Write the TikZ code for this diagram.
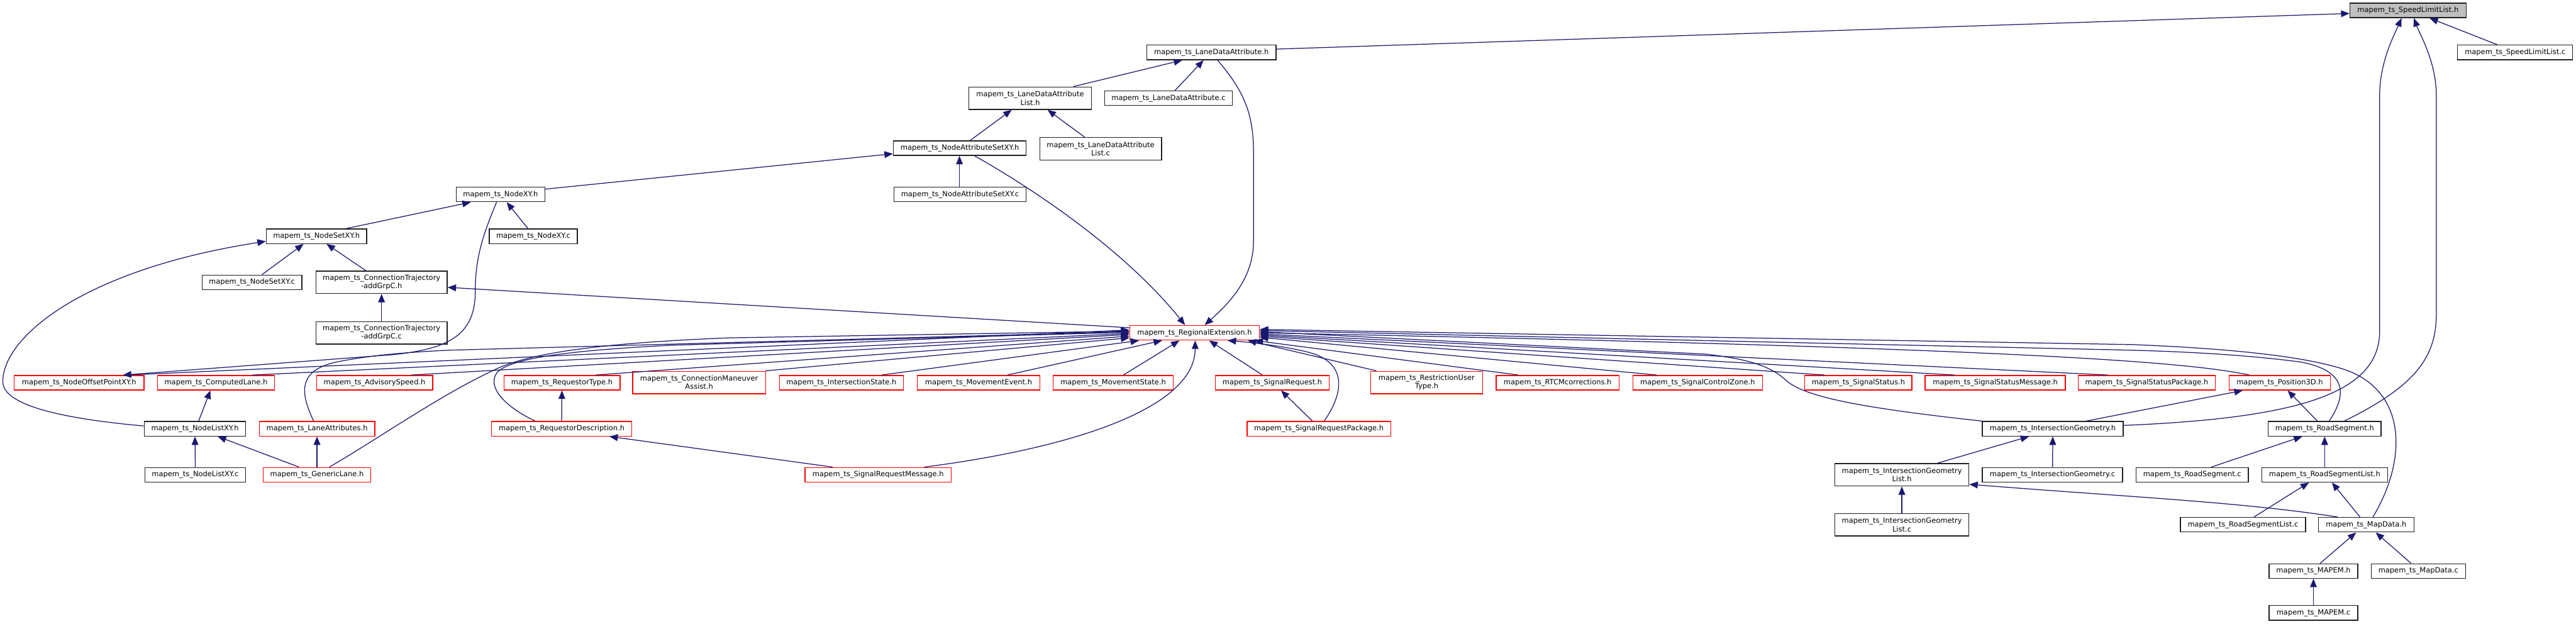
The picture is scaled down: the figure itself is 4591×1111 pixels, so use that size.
\documentclass[tikz,border=0pt]{standalone}
\usepackage{fontspec}
\setmainfont{DejaVu Sans}
\usetikzlibrary{arrows.meta}
\definecolor{edgecol}{HTML}{191970}
\definecolor{graybg}{HTML}{BFBFBF}
\definecolor{boxline}{HTML}{202020}
\newcommand\boxfont{\fontsize{12.85pt}{15pt}\selectfont}
\tikzset{
  box/.style={draw=boxline, line width=1.5pt, fill=white, inner sep=0pt, minimum height=26pt, align=center, font=\boxfont},
  redbox/.style={box, draw=red},
  topbox/.style={box, fill=graybg},
  two/.style={minimum height=40pt},
  edge/.style={draw=edgecol, line width=1.4pt, -{Triangle[length=15pt,width=12pt]}}
}
\begin{document}
\begin{tikzpicture}[x=1pt,y=-1pt]
\fill[white] (0,0) rectangle (4591,1111);
\useasboundingbox (0,0) rectangle (4591,1111);
% nodes
\node[topbox, minimum width=207pt] (SLLh) at (4291.5,18.5) {mapem\_ts\_SpeedLimitList.h};
\node[box, minimum width=205pt] (SLLc) at (4482.5,93.5) {mapem\_ts\_SpeedLimitList.c};
\node[box, minimum width=230pt] (LDAh) at (2159,93.5) {mapem\_ts\_LaneDataAttribute.h};
\node[box, two, minimum width=218pt] (LDALh) at (1836,175) {mapem\_ts\_LaneDataAttribute\\List.h};
\node[box, minimum width=228pt] (LDAc) at (2082.5,175) {mapem\_ts\_LaneDataAttribute.c};
\node[box, minimum width=237pt] (NASh) at (1710.5,264) {mapem\_ts\_NodeAttributeSetXY.h};
\node[box, two, minimum width=217pt] (LDALc) at (1961.5,265) {mapem\_ts\_LaneDataAttribute\\List.c};
\node[box, minimum width=236pt] (NASc) at (1711,346.5) {mapem\_ts\_NodeAttributeSetXY.c};
\node[box, minimum width=158pt] (NXYh) at (892,346.5) {mapem\_ts\_NodeXY.h};
\node[box, minimum width=157pt] (NXYc) at (950.5,421) {mapem\_ts\_NodeXY.c};
\node[box, minimum width=179pt] (NSXYh) at (564,421) {mapem\_ts\_NodeSetXY.h};
\node[box, minimum width=178pt] (NSXYc) at (449,503) {mapem\_ts\_NodeSetXY.c};
\node[box, two, minimum width=234pt] (CTh) at (680,503) {mapem\_ts\_ConnectionTrajectory\\-addGrpC.h};
\node[box, two, minimum width=234pt] (CTc) at (680,593) {mapem\_ts\_ConnectionTrajectory\\-addGrpC.c};
\node[redbox, minimum width=231pt] (REh) at (2129,593) {mapem\_ts\_RegionalExtension.h};
\node[redbox, minimum width=231pt] (NOPh) at (141,682) {mapem\_ts\_NodeOffsetPointXY.h};
\node[redbox, minimum width=208pt] (CLh) at (385,682) {mapem\_ts\_ComputedLane.h};
\node[redbox, minimum width=207pt] (ASh) at (667.5,682) {mapem\_ts\_AdvisorySpeed.h};
\node[redbox, minimum width=207pt] (RTh) at (1001.5,682) {mapem\_ts\_RequestorType.h};
\node[redbox, two, minimum width=237pt] (CMAh) at (1246,681.5) {mapem\_ts\_ConnectionManeuver\\Assist.h};
\node[redbox, minimum width=221pt] (ISh) at (1499.5,682) {mapem\_ts\_IntersectionState.h};
\node[redbox, minimum width=218pt] (MEh) at (1744,682) {mapem\_ts\_MovementEvent.h};
\node[redbox, minimum width=214pt] (MSh) at (1984,682) {mapem\_ts\_MovementState.h};
\node[redbox, minimum width=203pt] (SRh) at (2267.5,682) {mapem\_ts\_SignalRequest.h};
\node[redbox, two, minimum width=199pt] (RUTh) at (2542.5,681.5) {mapem\_ts\_RestrictionUser\\Type.h};
\node[redbox, minimum width=219pt] (RTCMh) at (2776,682) {mapem\_ts\_RTCMcorrections.h};
\node[redbox, minimum width=231pt] (SCZh) at (3025.5,682) {mapem\_ts\_SignalControlZone.h};
\node[redbox, minimum width=191pt] (SSh) at (3312,682) {mapem\_ts\_SignalStatus.h};
\node[redbox, minimum width=250pt] (SSMh) at (3556,682) {mapem\_ts\_SignalStatusMessage.h};
\node[redbox, minimum width=244pt] (SSPh) at (3826,682) {mapem\_ts\_SignalStatusPackage.h};
\node[redbox, minimum width=181pt] (P3Dh) at (4063,682) {mapem\_ts\_Position3D.h};
\node[box, minimum width=181pt] (NLXYh) at (347.5,764) {mapem\_ts\_NodeListXY.h};
\node[redbox, minimum width=206pt] (LAh) at (565,764) {mapem\_ts\_LaneAttributes.h};
\node[redbox, minimum width=250pt] (RDh) at (1001,764) {mapem\_ts\_RequestorDescription.h};
\node[redbox, minimum width=256pt] (SRPh) at (2350.5,764) {mapem\_ts\_SignalRequestPackage.h};
\node[box, minimum width=251pt] (IGh) at (3658.5,764) {mapem\_ts\_IntersectionGeometry.h};
\node[box, minimum width=201pt] (RSh) at (4143,764) {mapem\_ts\_RoadSegment.h};
\node[box, minimum width=180pt] (NLXYc) at (348,846) {mapem\_ts\_NodeListXY.c};
\node[redbox, minimum width=192pt] (GLh) at (565,846) {mapem\_ts\_GenericLane.h};
\node[redbox, minimum width=261pt] (SRMh) at (1565,846) {mapem\_ts\_SignalRequestMessage.h};
\node[box, two, minimum width=239pt] (IGLh) at (3389.5,846) {mapem\_ts\_IntersectionGeometry\\List.h};
\node[box, minimum width=250pt] (IGc) at (3658,846) {mapem\_ts\_IntersectionGeometry.c};
\node[box, minimum width=200pt] (RSc) at (3907,846) {mapem\_ts\_RoadSegment.c};
\node[box, minimum width=224pt] (RSLh) at (4143,846) {mapem\_ts\_RoadSegmentList.h};
\node[box, two, minimum width=239pt] (IGLc) at (3389.5,935) {mapem\_ts\_IntersectionGeometry\\List.c};
\node[box, minimum width=223pt] (RSLc) at (3997.5,935) {mapem\_ts\_RoadSegmentList.c};
\node[box, minimum width=170pt] (MDh) at (4217,935) {mapem\_ts\_MapData.h};
\node[box, minimum width=158pt] (MAPEMh) at (4123,1017.5) {mapem\_ts\_MAPEM.h};
\node[box, minimum width=168pt] (MDc) at (4310,1017.5) {mapem\_ts\_MapData.c};
\node[box, minimum width=158pt] (MAPEMc) at (4123,1092) {mapem\_ts\_MAPEM.c};
% edges: top
\draw[edge] (SLLc.north -| 4451,0) -- (SLLh.south -| 4330,0);
\draw[edge] (LDAh.east |- 0,87.5) -- (SLLh.west |- 0,24);
\draw[edge] (IGh.east |- 0,758) .. controls (4100,745) and (4241,700) .. (4241,590) -- (4241,170) .. controls (4241,110) and (4268,60) .. (SLLh.south -| 4280,0);
\draw[edge] (RSh.north -| 4178,0) .. controls (4300,690) and (4342,640) .. (4342,560) -- (4342,170) .. controls (4342,110) and (4312,60) .. (SLLh.south -| 4302,0);
\draw[edge] (LDALh.north -| 1913,0) -- (LDAh.south -| 2107,0);
\draw[edge] (LDAc.north -| 2094,0) -- (LDAh.south -| 2145,0);
\draw[edge] (LDAh.south -| 2170,0) .. controls (2215,160) and (2234,200) .. (2234,270) -- (2234,430) .. controls (2234,500) and (2185,545) .. (REh.north -| 2147,0);
\draw[edge] (NASh.north -| 1729,0) -- (LDALh.south -| 1803,0);
\draw[edge] (LDALc.north -| 1933,0) -- (LDALh.south -| 1867,0);
\draw[edge] (NXYh.east |- 0,337) -- (NASh.west |- 0,274);
\draw[edge] (NASc.north -| 1710,0) -- (NASh.south -| 1710,0);
\draw[edge] (NASh.south -| 1737,0) .. controls (1830,330) and (2000,440) .. (REh.north -| 2112,0);
\draw[edge] (NSXYh.north -| 617,0) -- (NXYh.south -| 839,0);
\draw[edge] (NXYc.north -| 941,0) -- (NXYh.south -| 903,0);
\draw[edge] (NXYh.south -| 885,0) .. controls (860,420) and (847,460) .. (847,520) .. controls (847,600) and (795,622) .. (700,632) -- (NOPh.north -| 219,0);
\draw[edge] (NSXYc.north -| 467,0) -- (NSXYh.south -| 541,0);
\draw[edge] (CTh.north -| 652,0) -- (NSXYh.south -| 582,0);
\draw[edge] (NLXYh.west |- 0,759) .. controls (100,745) and (5,720) .. (5,680) .. controls (5,600) and (150,480) .. (NSXYh.west |- 0,430);
\draw[edge] (CTc.north) -- (CTh.south);
\draw[edge] (REh.west |- 0,584) -- (CTh.east |- 0,512);
% edges: lower part
\draw[edge] (NLXYh.north -| 354,0) -- (CLh.south -| 375,0);
\draw[edge] (NLXYc.north) -- (NLXYh.south);
\draw[edge] (GLh.north -| 533,0) -- (NLXYh.south -| 388,0);
\draw[edge] (GLh.north) -- (LAh.south);
\draw[edge] (RDh.north) -- (RTh.south);
\draw[edge] (SRMh.north -| 1484,0) -- (RDh.south -| 1086,0);
\draw[edge] (SRPh.north -| 2339,0) -- (SRh.south -| 2283,0);
\draw[edge] (IGLh.north -| 3453,0) -- (IGh.south -| 3616,0);
\draw[edge] (IGc.north) -- (IGh.south);
\draw[edge] (IGLc.north) -- (IGLh.south);
\draw[edge] (IGh.north -| 3718,0) -- (P3Dh.south -| 3997,0);
\draw[edge] (RSh.north -| 4130,0) -- (P3Dh.south -| 4077,0);
\draw[edge] (RSc.north -| 3941,0) -- (RSh.south -| 4103,0);
\draw[edge] (RSLh.north) -- (RSh.south);
\draw[edge] (RSLc.north -| 4017,0) -- (RSLh.south -| 4115,0);
\draw[edge] (MDh.north -| 4206,0) -- (RSLh.south -| 4156,0);
\draw[edge] (MDh.north -| 4166,0) .. controls (4000,895) and (3800,886) .. (IGLh.east |- 0,863);
\draw[edge] (MAPEMh.north -| 4135,0) -- (MDh.south -| 4199,0);
\draw[edge] (MDc.north -| 4297,0) -- (MDh.south -| 4234,0);
\draw[edge] (MAPEMc.north) -- (MAPEMh.south);
% edges into RegionalExtension from the left
\draw[edge] (NOPh.north -| 225,0) -- (REh.west |- 0,588);
\draw[edge] (CLh.north -| 449,0) -- (REh.west |- 0,594);
\draw[edge] (ASh.north -| 732,0) -- (REh.west |- 0,596);
\draw[edge] (LAh.north -| 559,0) .. controls (535,700) and (530,660) .. (600,645) .. controls (660,633) and (720,628) .. (800,624) -- (REh.west |- 0,591);
\draw[edge] (GLh.north -| 587,0) .. controls (680,778) and (790,700) .. (890,655) .. controls (960,625) and (1100,610) .. (1300,602) -- (REh.west |- 0,590);
\draw[edge] (RDh.north -| 954,0) .. controls (900,725) and (868,690) .. (885,665) .. controls (905,640) and (1000,625) .. (1200,615) -- (REh.west |- 0,592);
\draw[edge] (RTh.north -| 1061,0) -- (REh.west |- 0,599);
\draw[edge] (CMAh.north -| 1364,0) -- (REh.west |- 0,602);
\draw[edge] (ISh.north -| 1571,0) -- (REh.south -| 2030,0);
\draw[edge] (MEh.north -| 1795,0) -- (REh.south -| 2071,0);
\draw[edge] (MSh.north -| 2002,0) -- (REh.south -| 2102,0);
\draw[edge] (SRMh.north -| 1647,0) .. controls (1900,800) and (2130,730) .. (REh.south -| 2130,0);
\draw[edge] (SRh.north -| 2250,0) -- (REh.south -| 2155,0);
% edges into RegionalExtension from the right
\draw[edge] (SRPh.north -| 2360,0) .. controls (2395,700) and (2400,650) .. (2340,630) .. controls (2300,618) and (2230,610) .. (REh.south -| 2188,0);
\draw[edge] (RUTh.north -| 2453,0) -- (REh.south -| 2224,0);
\draw[edge] (RTCMh.north -| 2706,0) -- (REh.south -| 2236,0);
\draw[edge] (SCZh.north -| 2953,0) -- (REh.east |- 0,601);
\draw[edge] (SSh.north -| 3252,0) -- (REh.east |- 0,599);
\draw[edge] (SSMh.north -| 3484,0) -- (REh.east |- 0,597);
\draw[edge] (SSPh.north -| 3757,0) -- (REh.east |- 0,595);
\draw[edge] (P3Dh.north -| 4009,0) .. controls (3900,645) and (3600,620) .. (REh.east |- 0,593);
\draw[edge] (IGh.north west) .. controls (3300,725) and (3210,705) .. (3180,675) .. controls (3150,648) and (3100,638) .. (3040,631) -- (REh.east |- 0,591);
\draw[edge] (RSh.north -| 4151,0) .. controls (4185,700) and (4180,660) .. (4100,645) .. controls (4000,632) and (3900,627) .. (3800,624) -- (REh.east |- 0,589);
\draw[edge] (MDh.north -| 4229,0) .. controls (4290,820) and (4290,700) .. (4183,660) .. controls (4120,638) and (4000,622) .. (3800,614) -- (REh.east |- 0,587);
\end{tikzpicture}
\end{document}
